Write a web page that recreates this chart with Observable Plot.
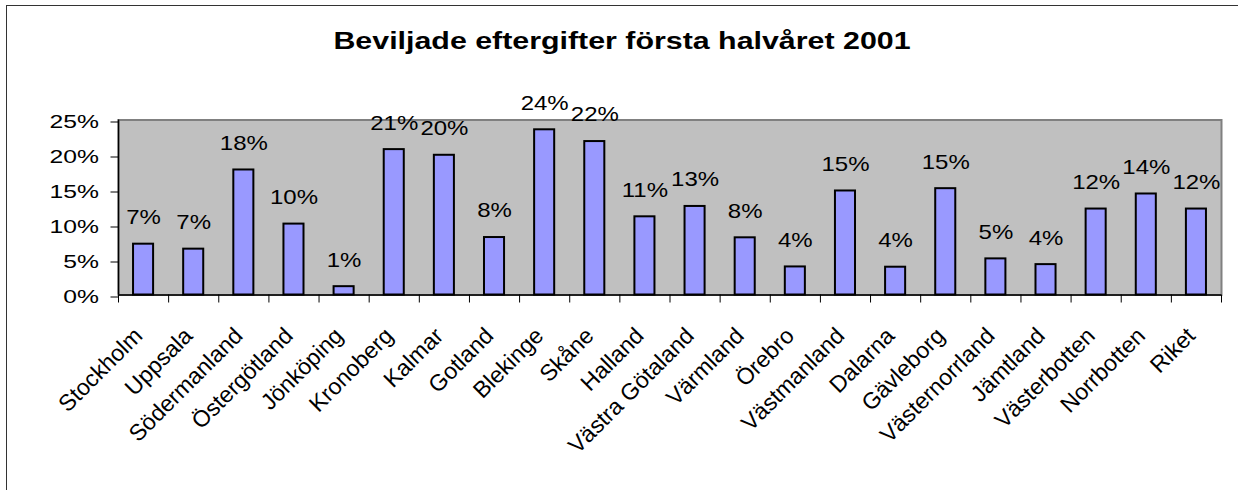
<!DOCTYPE html>
<html><head><meta charset="utf-8">
<script src="https://cdn.jsdelivr.net/npm/d3@7"></script>
<script src="https://cdn.jsdelivr.net/npm/@observablehq/plot@0.6"></script>
<style>
html,body{margin:0;padding:0;background:#fff;overflow:hidden;width:1238px;height:490px;}
body{position:relative;font-family:"Liberation Sans",Arial,sans-serif;}
#border{position:absolute;left:6px;top:5px;width:1300px;height:600px;border:1.5px solid #333;}
#title{position:absolute;left:0;top:0;width:1238px;height:60px;}
#title span{position:absolute;left:622px;top:27px;white-space:nowrap;font-weight:bold;font-size:23px;line-height:28px;color:#000;transform:translateX(-50%) scaleX(1.32);transform-origin:50% 50%;}
#chart{position:absolute;left:0;top:60px;}
</style></head><body>
<div id="border"></div>
<div id="title"><span>Beviljade eftergifter första halvåret 2001</span></div>
<div id="chart"></div>
<script>
const categories = ["Stockholm","Uppsala","Södermanland","Östergötland","Jönköping","Kronoberg","Kalmar","Gotland","Blekinge","Skåne","Halland","Västra Götaland","Värmland","Örebro","Västmanland","Dalarna","Gävleborg","Västernorrland","Jämtland","Västerbotten","Norrbotten","Riket"];
const values = [0.0726,0.0655,0.1786,0.1013,0.0119,0.2077,0.1996,0.0821,0.2360,0.2192,0.1117,0.1265,0.0817,0.0401,0.1486,0.0397,0.1519,0.0516,0.0434,0.1228,0.1443,0.1228];
const yTicks = [0,0.05,0.10,0.15,0.20,0.25];

const fmt = d3.format(".0%");
const data = categories.map((c,i)=>({region:c, value:values[i]}));
const W=1238, H=430, ML=118, MR=17, MT=59.5, MB=195.5;
const step=(W-ML-MR)/categories.length;
const font = '"Liberation Sans", Arial, sans-serif';

const chart = Plot.plot({
  width:W, height:H, marginLeft:ML, marginRight:MR, marginTop:MT, marginBottom:MB,
  style:{fontFamily:font, fontSize:"20px", color:"#000", background:"transparent", overflow:"visible"},
  x:{domain:categories, paddingInner:0.6, paddingOuter:0.3, round:false, label:null},
  y:{domain:[0,0.25], label:null},
  marks:[
    Plot.frame({fill:"#c0c0c0", stroke:"#808080", strokeWidth:2}),
    Plot.barY(data,{x:"region", y:"value", fill:"#9999ff", stroke:"#000", strokeWidth:2}),
    Plot.text(data,{x:"region", y:"value", text:d=>fmt(d.value), dy:-26.5, fontSize:20, fill:"#000"}),
    Plot.ruleY([0],{stroke:"#000", strokeWidth:1.5}),
    Plot.ruleX([categories[0]],{dx:-step/2, y1:0, y2:0.25, stroke:"#000", strokeWidth:1.5}),
    Plot.axisY({ticks:yTicks, tickFormat:fmt, tickSize:7.5, tickPadding:12, dy:2, fontSize:19, label:null, stroke:"#000", fill:"#000"}),
    Plot.axisX({ticks:categories, tickSize:8, dx:step/2, tickFormat:()=>"", label:null, stroke:"#000"}),
    Plot.axisX({ticks:[categories[0]], tickSize:8, dx:-step/2, tickFormat:()=>"", label:null, stroke:"#000"}),
    Plot.axisX({tickSize:0, tickPadding:37, dx:-5, tickRotate:-45, fontSize:23, label:null, fill:"#000"})
  ]
});
function stretch(sel, sx){
  chart.querySelectorAll(sel).forEach(t=>{
    const tr = t.getAttribute("transform") || "";
    t.setAttribute("transform", tr + ` scale(${sx},1)`);
  });
}
stretch('g[aria-label="text"] text', 1.2);
stretch('g[aria-label="y-axis tick label"] text', 1.3);
document.getElementById("chart").appendChild(chart);
</script>
</body></html>
